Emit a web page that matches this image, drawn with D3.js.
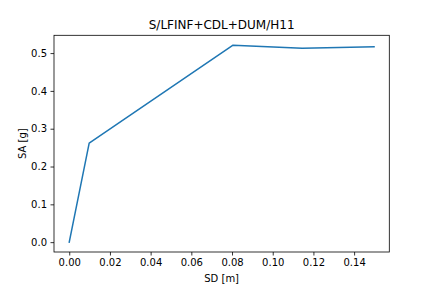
<!DOCTYPE html>
<html><head><meta charset="utf-8">
<script src="https://cdn.jsdelivr.net/npm/d3@7"></script>
<style>body{margin:0;background:#fff}text{font-family:"DejaVu Sans",sans-serif;fill:#262626}</style>
</head><body><svg id="c" width="432" height="288"></svg>
<script>
const sd = [0.0, 0.0098, 0.0805, 0.1145, 0.1498];
const sa = [0.0, 0.262, 0.521, 0.513, 0.517];
const xTicks = [0, 0.02, 0.04, 0.06, 0.08, 0.10, 0.12, 0.14];
const yTicks = [0, 0.1, 0.2, 0.3, 0.4, 0.5];
const title = "S/LFINF+CDL+DUM/H11";
const xLabel = "SD [m]", yLabel = "SA [g]";

const L = 54, R = 389.3, T = 35.3, B = 252;
const svg = d3.select("#c");
const pad = (lo, hi) => [lo - 0.05*(hi-lo), hi + 0.05*(hi-lo)];
const x = d3.scaleLinear().domain(pad(d3.min(sd), d3.max(sd))).range([L, R]);
const y = d3.scaleLinear().domain(pad(d3.min(sa), d3.max(sa))).range([B, T]);

const line = d3.line().x((d,i)=>x(sd[i])).y((d,i)=>y(sa[i]));
svg.append("path").datum(sd).attr("d", line).attr("fill","none")
  .attr("stroke","#1f77b4").attr("stroke-width",1.5).attr("stroke-linejoin","round").attr("stroke-linecap","square");

const xa = svg.append("g").attr("transform",`translate(0,${B})`)
  .call(d3.axisBottom(x).tickValues(xTicks).tickFormat(d3.format(".2f")).tickSize(3.5).tickPadding(3.5));
const ya = svg.append("g").attr("transform",`translate(${L},0)`)
  .call(d3.axisLeft(y).tickValues(yTicks).tickFormat(d3.format(".1f")).tickSize(3.5).tickPadding(3.5));
[xa, ya].forEach(g => {
  g.select(".domain").remove();
  g.selectAll("line").attr("stroke","#000").attr("stroke-width",0.8);
  g.selectAll("text").attr("font-size",10).style("fill","#000");
});
svg.append("rect").attr("x",L).attr("y",T).attr("width",R-L).attr("height",B-T)
  .attr("fill","none").attr("stroke","#000").attr("stroke-width",0.8);

svg.append("text").attr("x",(L+R)/2).attr("y",T-6).attr("text-anchor","middle")
  .attr("font-size",12).style("fill","#000").text(title);
svg.append("text").attr("x",(L+R)/2).attr("y",282).attr("text-anchor","middle")
  .attr("font-size",10).style("fill","#000").text(xLabel);
svg.append("text").attr("transform",`translate(25.5,${(T+B)/2}) rotate(-90)`).attr("text-anchor","middle")
  .attr("font-size",10).style("fill","#000").text(yLabel);
</script></body></html>
